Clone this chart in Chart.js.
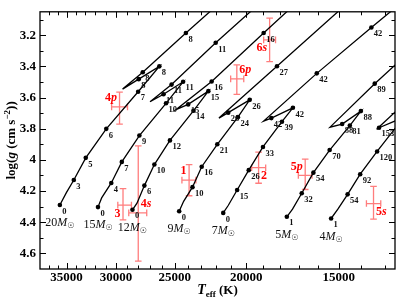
<!DOCTYPE html>
<html>
<head>
<meta charset="utf-8">
<script src="https://cdn.jsdelivr.net/npm/chart.js@4.4.1/dist/chart.umd.min.js"></script>
<style>
  html, body { margin: 0; padding: 0; background: #fff; }
</style>
</head>
<body>
<canvas id="hr" width="399" height="300"></canvas>
<script>
// evolutionary tracks, one row per mass (Teff in K, log g in cgs)
const masses = ['20', '15', '12', '9', '7', '5', '4'];
const trackTeff = [
  [35740, 35020, 34220, 32970, 30930, 28010, 26220, 27960, 29400, 27610, 24140, 22050],
  [31740, 31380, 30450, 29470, 27900, 25680, 24350, 25880, 26990, 25240, 22000, 19440],
  [28510, 28110, 27470, 26630, 25370, 23580, 22510, 23970, 24900, 22280, 18950, 17360],
  [24650, 24310, 23650, 22980, 21890, 20530, 19790, 21160, 21780, 18180, 14800],
  [21490, 21150, 20580, 19850, 18990, 17900, 17300, 18500, 18950, 16060, 13550, 12550],
  [17630, 17320, 16830, 16230, 15430, 14490, 14000, 14840, 15410, 13410, 12470],
  [15360, 15040, 14590, 14030, 13310, 12250, 13230, 13330, 12400]
];
const trackLogg = [
  [4.289, 4.210, 4.129, 3.987, 3.801, 3.563, 3.400, 3.482, 3.546, 3.438, 3.186, 3.020],
  [4.303, 4.244, 4.148, 4.013, 3.844, 3.637, 3.499, 3.579, 3.627, 3.517, 3.249, 3.020],
  [4.320, 4.278, 4.165, 4.030, 3.875, 3.685, 3.559, 3.644, 3.678, 3.497, 3.186, 3.020],
  [4.330, 4.266, 4.175, 4.044, 3.900, 3.726, 3.615, 3.697, 3.732, 3.399, 3.020],
  [4.340, 4.291, 4.193, 4.066, 3.917, 3.755, 3.666, 3.732, 3.751, 3.445, 3.151, 3.020],
  [4.365, 4.316, 4.214, 4.082, 3.937, 3.780, 3.687, 3.770, 3.790, 3.511, 3.374],
  [4.376, 4.316, 4.221, 4.092, 3.946, 3.726, 3.794, 3.804, 3.664]
];
// ages (Myr) at the marked points, null = no marker
const trackAge = [
  ['0', null, '3', '5', '6', '7', '8', '8', null, '8', '8', null],
  ['0', null, '4', '7', '9', '10', '11', '11', null, '11', '11', null],
  ['0', null, '6', '10', '12', '14', '15', '15', null, '16', '16', null],
  ['0', null, '10', '16', '21', '24', '26', '26', null, '27', null],
  ['0', null, '15', '26', '33', '39', '42', '42', null, '42', '42', null],
  ['1', null, '32', '54', '70', '81', '88', '88', null, '89', null],
  ['1', null, '54', '92', '120', null, '153', null, null]
];

// observed stars
const obsNames  = ['1', '2', '3', '4p', '4s', '5p', '5s', '6p', '6s'];
const obsTeff   = [23900, 19250, 29360, 29680, 28000, 16650, 13460, 20600, 18600];
const obsTeffLo = [23400, 18830, 28600, 28950, 27270, 16300, 13160, 20160, 18260];
const obsTeffHi = [24440, 19670, 29840, 30420, 28840, 17010, 13760, 21000, 18950];
const obsLogg   = [4.13, 4.05, 4.29, 3.66, 4.34, 4.10, 4.28, 3.48, 3.23];
const obsLoggLo = [4.03, 3.95, 4.185, 3.565, 3.91, 3.995, 4.17, 3.39, 3.09];
const obsLoggHi = [4.23, 4.15, 4.385, 3.77, 4.65, 4.19, 4.38, 3.58, 3.37];
const obsLabelSide = ['ul', 'lr', 'll', 'ul', 'ur', 'ul', 'lr', 'ur', 'll'];

const teffTicks = [15000, 20000, 25000, 30000, 35000];
const loggTicks = [3.2, 3.4, 3.6, 3.8, 4, 4.2, 4.4, 4.6];

const serif = '"Liberation Serif", "Times New Roman", serif';

function drawParts(ctx, parts, x, y, align) {
  // parts: [text, font, dy]
  let w = 0;
  parts.forEach(p => { ctx.font = p[1]; w += ctx.measureText(p[0]).width; });
  let cx = align === 'center' ? x - w / 2 : align === 'right' ? x - w : x;
  ctx.textAlign = 'left';
  parts.forEach(p => {
    ctx.font = p[1];
    ctx.fillText(p[0], cx, y + p[2]);
    cx += ctx.measureText(p[0]).width;
  });
}

const obsBars = {
  id: 'obsBars',
  beforeDatasetsDraw(chart) {
    const { ctx, scales: { x, y } } = chart;
    ctx.save();
    ctx.strokeStyle = 'rgb(255,125,125)';
    ctx.lineWidth = 1.3;
    const c = 3.3;
    obsNames.forEach((n, i) => {
      const cx = x.getPixelForValue(obsTeff[i]);
      const cy = y.getPixelForValue(obsLogg[i]);
      const x0 = x.getPixelForValue(obsTeffLo[i]);
      const x1 = x.getPixelForValue(obsTeffHi[i]);
      const y0 = y.getPixelForValue(obsLoggLo[i]);
      const y1 = y.getPixelForValue(obsLoggHi[i]);
      ctx.beginPath();
      ctx.moveTo(x0, cy); ctx.lineTo(x1, cy);
      ctx.moveTo(x0, cy - c); ctx.lineTo(x0, cy + c);
      ctx.moveTo(x1, cy - c); ctx.lineTo(x1, cy + c);
      ctx.moveTo(cx, y0); ctx.lineTo(cx, y1);
      ctx.moveTo(cx - c, y0); ctx.lineTo(cx + c, y0);
      ctx.moveTo(cx - c, y1); ctx.lineTo(cx + c, y1);
      ctx.stroke();
    });
    ctx.restore();
  },
  afterDatasetsDraw(chart) {
    const { ctx, scales: { x, y } } = chart;
    ctx.save();
    ctx.fillStyle = '#ff0000';
    ctx.textBaseline = 'middle';
    obsNames.forEach((n, i) => {
      const cx = x.getPixelForValue(obsTeff[i]);
      const cy = y.getPixelForValue(obsLogg[i]);
      const m = n.match(/^(\d+)([a-z]*)$/);
      const parts = [[m[1], 'bold 12px ' + serif, 0]];
      if (m[2]) parts.push([m[2], 'bold italic 12px ' + serif, 0]);
      const side = obsLabelSide[i];
      const lx = side[1] === 'l' ? cx - 2.5 : cx + 2.5;
      const ly = side[0] === 'u' ? cy - 9 : cy + 8.5;
      drawParts(ctx, parts, lx, ly, side[1] === 'l' ? 'right' : 'left');
    });
    ctx.restore();
  }
};

const ageLabels = {
  id: 'ageLabels',
  afterDatasetsDraw(chart) {
    const { ctx, chartArea: a } = chart;
    ctx.save();
    ctx.fillStyle = '#111';
    ctx.textBaseline = 'middle';
    masses.forEach((m, i) => {
      const meta = chart.getDatasetMeta(i);
      ctx.font = 'bold 8.5px ' + serif;
      ctx.textAlign = 'left';
      trackAge[i].forEach((age, j) => {
        if (age === null) return;
        const p = meta.data[j];
        if (p.x < a.left || p.x > a.right || p.y < a.top || p.y > a.bottom) return;
        ctx.fillText(age, p.x + 2.5, p.y + 6.5);
      });
      const p0 = meta.data[0];
      drawParts(ctx, [
        [m, '12px ' + serif, 0],
        ['M', 'italic 12px ' + serif, 0],
        ['\u2609', '8px "DejaVu Sans"', 3]
      ], p0.x, p0.y + 18, 'center');
    });
    ctx.restore();
  }
};

const frame = {
  id: 'frame',
  afterDraw(chart) {
    const { ctx, chartArea: a, scales: { x, y } } = chart;
    ctx.save();
    ctx.strokeStyle = '#000';
    ctx.lineWidth = 1;
    ctx.beginPath();
    for (let t = 13000; t <= 38000; t += 1000) {
      const px = Math.round(x.getPixelForValue(t)) + 0.5;
      if (px < a.left + 1 || px > a.right - 1) continue;
      const len = t % 5000 === 0 ? 6 : 3.5;
      ctx.moveTo(px, a.bottom); ctx.lineTo(px, a.bottom - len);
      ctx.moveTo(px, a.top); ctx.lineTo(px, a.top + len);
    }
    for (let k = 31; k <= 47; k++) {
      const py = Math.round(y.getPixelForValue(k / 10)) + 0.5;
      if (py < a.top + 1 || py > a.bottom - 1) continue;
      const len = k % 2 === 0 ? 6 : 3.5;
      ctx.moveTo(a.left, py); ctx.lineTo(a.left + len, py);
      ctx.moveTo(a.right, py); ctx.lineTo(a.right - len, py);
    }
    ctx.stroke();
    ctx.lineWidth = 1.3;
    ctx.strokeRect(a.left, a.top, a.right - a.left, a.bottom - a.top);

    // axis titles
    ctx.fillStyle = '#000';
    ctx.textBaseline = 'alphabetic';
    const mx = (a.left + a.right) / 2;
    drawParts(ctx, [
      ['T', 'bold italic 14px ' + serif, 0],
      ['eff', 'bold 9px ' + serif, 3],
      [' (K)', 'bold 13px ' + serif, 0]
    ], mx, 294, 'center');

    ctx.translate(14.5, (a.top + a.bottom) / 2);
    ctx.rotate(-Math.PI / 2);
    drawParts(ctx, [
      ['log(', 'bold 13px ' + serif, 0],
      ['g', 'bold italic 13px ' + serif, 0],
      [' (cm s', 'bold 13px ' + serif, 0],
      ['\u22122', 'bold 9px ' + serif, -5],
      ['))', 'bold 13px ' + serif, 0]
    ], 0, 0, 'center');
    ctx.restore();
  }
};

const datasets = masses.map((m, i) => ({
  label: m + ' Msun',
  data: trackTeff[i].map((t, j) => ({ x: t, y: trackLogg[i][j] })),
  showLine: true,
  borderColor: '#000',
  borderWidth: 1.3,
  tension: 0,
  pointRadius: trackAge[i].map(a => (a === null ? 0 : 2.3)),
  pointBackgroundColor: '#000',
  pointBorderWidth: 0
}));
datasets.push({
  label: 'stars',
  data: obsTeff.map((t, i) => ({ x: t, y: obsLogg[i] })),
  pointRadius: 0,
  showLine: false
});

new Chart(document.getElementById('hr'), {
  type: 'scatter',
  data: { datasets },
  plugins: [obsBars, ageLabels, frame],
  options: {
    responsive: false,
    animation: false,
    devicePixelRatio: 1,
    layout: { padding: { top: 3, right: 2, left: 0, bottom: 0 } },
    plugins: { legend: { display: false }, tooltip: { enabled: false } },
    scales: {
      x: {
        type: 'logarithmic',
        reverse: true,
        min: 12589,
        max: 38019,
        afterBuildTicks: s => { s.ticks = teffTicks.map(v => ({ value: v })); },
        afterFit: s => { s.height = 31; },
        grid: { display: false, drawTicks: false },
        border: { display: false },
        ticks: {
          autoSkip: false,
          maxRotation: 0,
          padding: 1,
          color: '#000',
          font: { family: serif, size: 13, weight: 'bold' },
          callback: v => String(v)
        }
      },
      y: {
        type: 'linear',
        reverse: true,
        min: 3.05,
        max: 4.7,
        afterBuildTicks: s => { s.ticks = loggTicks.map(v => ({ value: v })); },
        afterFit: s => { s.width = 40; },
        grid: { display: false, drawTicks: false },
        border: { display: false },
        ticks: {
          padding: 4,
          color: '#000',
          font: { family: serif, size: 13, weight: 'bold' },
          callback: v => String(+v.toFixed(1))
        }
      }
    }
  }
});
</script>
</body>
</html>
